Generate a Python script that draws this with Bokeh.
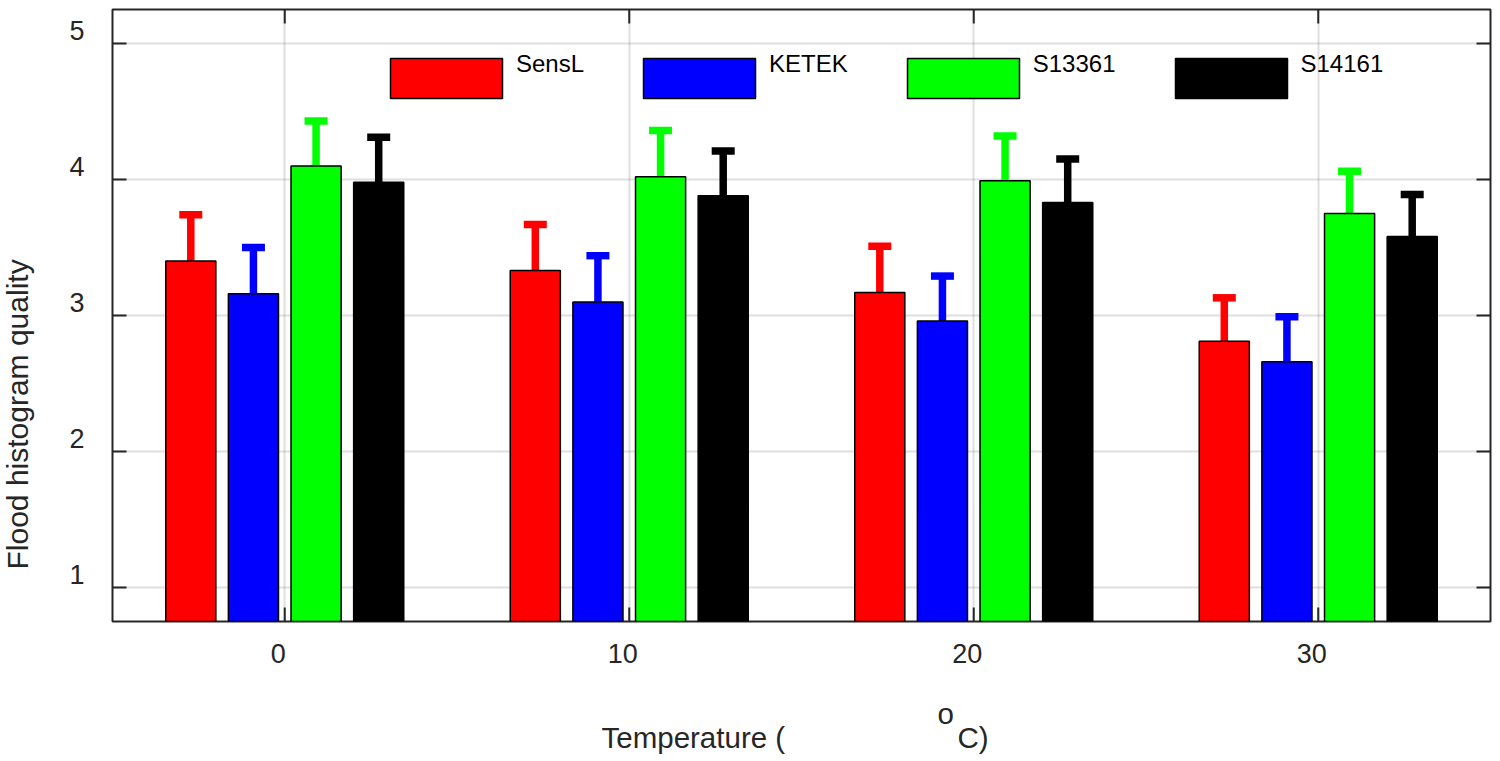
import math
from bokeh.plotting import figure
from bokeh.layouts import column, row
from bokeh.models import (Range1d, LinearAxis, Legend, LegendItem,
                          FixedTicker, ColumnDataSource)
from bokeh.embed import file_html
from bokeh.resources import INLINE
from bokeh.core.properties import value

# ---------------- data ----------------
temperatures = [0, 10, 20, 30]
series_names = ["SensL", "KETEK", "S13361", "S14161"]
series_colors = ["#ff0000", "#0000ff", "#00ff00", "#000000"]

sensl = [3.40, 3.33, 3.17, 2.81]
ketek = [3.16, 3.10, 2.96, 2.66]
s13361 = [4.10, 4.02, 3.99, 3.75]
s14161 = [3.98, 3.88, 3.83, 3.58]

sensl_err = [0.34, 0.34, 0.34, 0.32]
ketek_err = [0.34, 0.34, 0.33, 0.33]
s13361_err = [0.33, 0.34, 0.33, 0.31]
s14161_err = [0.33, 0.33, 0.32, 0.31]

x_ticks = [0, 10, 20, 30]
y_ticks = [1, 2, 3, 4, 5]
x_label_parts = ["Temperature (", "o", "C)"]
y_label = "Flood histogram quality"

series_values = [sensl, ketek, s13361, s14161]
series_errors = [sensl_err, ketek_err, s13361_err, s14161_err]

# ---------------- geometry / style ----------------
FONT = "Liberation Sans"
AX = "#262626"
X0, X1 = -5, 35
Y0, Y1 = 0.75, 5.25
W_TOTAL, H_TOTAL = 1500, 761
W_YLAB = 40
W = W_TOTAL - W_YLAB
H_MAIN, H_LAB = 680, 81
BL, BR, BT, BB = 112 - W_YLAB, 10, 9, 59
FW, FH = W - BL - BR, H_MAIN - BT - BB
px_x = FW / (X1 - X0)
px_y = FH / (Y1 - Y0)
TICK = 14

p = figure(width=W, height=H_MAIN, x_range=Range1d(X0, X1), y_range=Range1d(Y0, Y1),
           title=None, output_backend="svg", toolbar_location=None,
           x_axis_location=None, y_axis_location=None,
           min_border_left=BL, min_border_right=BR, min_border_top=BT, min_border_bottom=BB)
p.background_fill_color = "white"
p.border_fill_color = "white"
p.outline_line_color = AX
p.outline_line_width = 2

# grid
p.xgrid.ticker = FixedTicker(ticks=x_ticks)
p.ygrid.ticker = FixedTicker(ticks=y_ticks)
for g in (p.xgrid[0], p.ygrid[0]):
    g.grid_line_color = AX
    g.grid_line_alpha = 0.15
    g.grid_line_width = 2

# label-only axes (tick labels slightly offset, as in the reference)
dy = 13 / px_y
dx = 6.5 / px_x
p.extra_y_ranges = {"ylab": Range1d(Y0 - dy, Y1 - dy)}
p.extra_x_ranges = {"xlab": Range1d(X0 + dx, X1 + dx)}
ya = LinearAxis(y_range_name="ylab", ticker=FixedTicker(ticks=y_ticks), major_label_standoff=28)
xa = LinearAxis(x_range_name="xlab", ticker=FixedTicker(ticks=x_ticks), major_label_standoff=22)
for a in (xa, ya):
    a.axis_line_color = None
    a.major_tick_line_color = None
    a.minor_tick_line_color = None
    a.major_tick_in = 0
    a.major_tick_out = 0
    a.major_label_text_font = FONT
    a.major_label_text_font_size = "27px"
    a.major_label_text_color = AX
p.add_layout(ya, "left")
p.add_layout(xa, "below")

# inward ticks on all four sides
tx = TICK / px_x
ty = TICK / px_y
p.segment(x0=x_ticks, y0=[Y0] * len(x_ticks), x1=x_ticks, y1=[Y0 + ty] * len(x_ticks),
          line_color=AX, line_width=2)
p.segment(x0=x_ticks, y0=[Y1] * len(x_ticks), x1=x_ticks, y1=[Y1 - ty] * len(x_ticks),
          line_color=AX, line_width=2)
p.segment(x0=[X0] * len(y_ticks), y0=y_ticks, x1=[X0 + tx] * len(y_ticks), y1=y_ticks,
          line_color=AX, line_width=2)
p.segment(x0=[X1] * len(y_ticks), y0=y_ticks, x1=[X1 - tx] * len(y_ticks), y1=y_ticks,
          line_color=AX, line_width=2)

# ---------------- bars & error bars ----------------
n = len(series_names)
group_w = min(0.8, n / (n + 1.5))
step = 10 * group_w / n
bar_w = 0.8 * step
cap_half = 11.5 / px_x

sources = []
for i, (vals, errs, col) in enumerate(zip(series_values, series_errors, series_colors)):
    xs = [t + (i - (n - 1) / 2) * step for t in temperatures]
    src = ColumnDataSource(dict(
        x=xs, top=vals, hi=[v + e for v, e in zip(vals, errs)],
        cx0=[x - cap_half for x in xs], cx1=[x + cap_half for x in xs]))
    sources.append(src)
    p.segment(x0="x", y0="top", x1="x", y1="hi", source=src, line_color=col,
              line_width=7.5, line_cap="butt")
    p.segment(x0="cx0", y0="hi", x1="cx1", y1="hi", source=src, line_color=col,
              line_width=7.5, line_cap="butt")

bar_renderers = []
for src, col in zip(sources, series_colors):
    r = p.vbar(x="x", top="top", bottom=0, width=bar_w, source=src, fill_color=col,
               line_color="#000000", line_width=1.5)
    bar_renderers.append(r)

# ---------------- legend ----------------
legend = Legend(items=[LegendItem(label=nm + "\n\u00a0", renderers=[r])
                       for nm, r in zip(series_names, bar_renderers)],
                orientation="horizontal", location=(264, 515),
                glyph_width=140, glyph_height=50, label_standoff=0, spacing=45,
                padding=0, margin=0, border_line_color=None, background_fill_alpha=0,
                label_text_font=FONT, label_text_font_size="24px",
                label_text_color="#000000")
p.add_layout(legend)


def text_strip(width, height, x_range, y_range, bl=0, br=0):
    f = figure(width=width, height=height, x_range=x_range, y_range=y_range,
               title=None, output_backend="svg", toolbar_location=None,
               x_axis_location=None, y_axis_location=None,
               min_border_left=bl, min_border_right=br, min_border_top=0, min_border_bottom=0)
    f.grid.visible = False
    f.outline_line_color = None
    f.background_fill_color = "white"
    f.border_fill_color = "white"
    return f


# ---------------- y-axis title strip (page coordinates) ----------------
qy = text_strip(W_YLAB, H_TOTAL, Range1d(0, W_YLAB), Range1d(H_TOTAL, 0))
qy.text(x=[17], y=[569], text=[y_label], angle=math.pi / 2,
        text_font=value(FONT), text_font_size="30px", text_color=AX,
        text_align="left", text_baseline="alphabetic")

# ---------------- x-axis title strip ----------------
qx = text_strip(W, H_LAB, Range1d(112, W_TOTAL - BR), Range1d(0, H_LAB), bl=BL, br=BR)
qx.text(x=[601, 937, 957], y=[24.3, 47.7, 24.3], text=x_label_parts,
        text_font=value(FONT), text_font_size="29.5px", text_color=AX,
        text_align="left", text_baseline="alphabetic")

layout = row(qy, column(p, qx, spacing=0), spacing=0)
open("out.html", "w").write(file_html(layout, INLINE))
